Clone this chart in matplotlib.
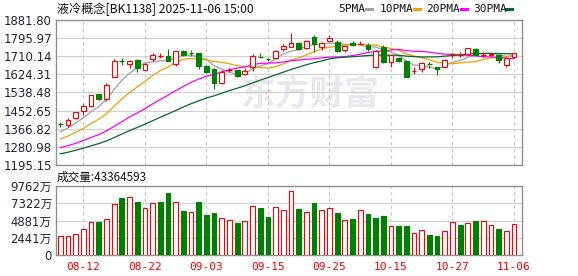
import matplotlib
matplotlib.use('Agg')
import matplotlib.pyplot as plt
import numpy as np
import pandas as pd

# ---------------- data ----------------
dates = ['08-07', '08-08', '08-11', '08-12', '08-13', '08-14', '08-15', '08-18', '08-19', '08-20',
         '08-21', '08-22', '08-25', '08-26', '08-27', '08-28', '08-29',
         '09-01', '09-02', '09-03', '09-04', '09-05', '09-08', '09-09', '09-10', '09-11', '09-12',
         '09-15', '09-16', '09-17', '09-18', '09-19', '09-22', '09-23', '09-24', '09-25', '09-26',
         '09-29', '09-30',
         '10-09', '10-10', '10-13', '10-14', '10-15', '10-16', '10-17', '10-20', '10-21', '10-22',
         '10-23', '10-24', '10-27', '10-28', '10-29', '10-30', '10-31',
         '11-03', '11-04', '11-05', '11-06']

opens = [1390, 1383, 1416, 1449, 1476, 1531, 1506, 1613, 1690, 1672,
         1691, 1645, 1698, 1711, 1711, 1673, 1735, 1728, 1724, 1664,
         1650, 1585, 1644, 1645, 1626, 1658, 1709, 1698, 1700, 1744,
         1755, 1774, 1750, 1803, 1752, 1784, 1779, 1740, 1774, 1766,
         1763, 1658, 1752, 1684, 1703, 1689, 1641, 1648, 1672, 1658,
         1661, 1718, 1717, 1721, 1743, 1715, 1716, 1716, 1669, 1705]
highs = [1401, 1419, 1447, 1484, 1527, 1533, 1582, 1696, 1703, 1691,
         1696, 1677, 1724, 1727, 1743, 1737, 1738, 1741, 1727, 1667,
         1655, 1645, 1656, 1647, 1653, 1719, 1727, 1703, 1738, 1768,
         1822, 1776, 1786, 1811, 1776, 1811, 1787, 1759, 1784, 1784,
         1771, 1740, 1763, 1716, 1708, 1693, 1658, 1684, 1684, 1660,
         1695, 1724, 1731, 1750, 1751, 1731, 1726, 1718, 1705, 1726]
lows = [1375, 1376, 1412, 1433, 1471, 1504, 1500, 1612, 1669, 1653,
        1637, 1643, 1686, 1700, 1686, 1665, 1713, 1711, 1648, 1629,
        1555, 1577, 1634, 1610, 1621, 1642, 1707, 1686, 1696, 1735,
        1754, 1741, 1743, 1732, 1740, 1784, 1731, 1732, 1758, 1766,
        1737, 1655, 1680, 1661, 1681, 1613, 1626, 1634, 1656, 1621,
        1660, 1700, 1708, 1719, 1714, 1705, 1710, 1680, 1661, 1700]
closes = [1388, 1408, 1445, 1474, 1525, 1506, 1574, 1688, 1688, 1688,
          1653, 1675, 1714, 1713, 1689, 1735, 1715, 1726, 1664, 1637,
          1585, 1637, 1646, 1618, 1642, 1711, 1707, 1696, 1736, 1759,
          1771, 1743, 1784, 1768, 1774, 1795, 1736, 1759, 1763, 1768,
          1744, 1737, 1684, 1716, 1688, 1613, 1642, 1677, 1671, 1648,
          1692, 1720, 1719, 1748, 1716, 1717, 1720, 1692, 1703, 1724]
# closes of the 29 sessions before the visible window (for moving averages)
prior_closes = [1175, 1168, 1180, 1192, 1185, 1198, 1205, 1190, 1200, 1207,
                1215, 1222, 1210, 1228, 1240, 1232, 1245, 1250, 1248, 1270,
                1265, 1272, 1285, 1290, 1303, 1318, 1330, 1352, 1376]
# volume in 万 (10k)
volumes = [2735, 2735, 2924, 3726, 4716, 4622, 5140, 7168, 8017, 8253,
           7451, 6697, 7404, 7451, 8725, 7546, 6178, 6131, 7451, 5659,
           5895, 5282, 4999, 4527, 4857, 6980, 6602, 5329, 6838, 6319,
           9008, 6461, 6036, 7310, 6319, 6697, 5942, 4905, 5046, 6414,
           5753, 5188, 5470, 4150, 4150, 4056, 3065, 3584, 2782, 2641,
           3443, 4622, 4197, 4480, 4763, 4857, 4197, 3631, 3443, 4336]
vol_up = [1, 1, 1, 1, 1, 0, 1, 1, 0, 1, 0, 1, 1, 0, 0, 1, 0, 1, 0, 0,
          0, 1, 1, 0, 1, 1, 0, 0, 1, 1, 1, 0, 1, 0, 1, 1, 0, 1, 0, 1,
          0, 0, 0, 1, 0, 0, 1, 1, 0, 0, 1, 1, 0, 1, 0, 1, 1, 0, 1, 1]

price_ticks = [1195.15, 1280.98, 1366.82, 1452.65, 1538.48, 1624.31, 1710.14, 1795.97, 1881.80]
vol_ticks = [0, 2441, 4881, 7322, 9762]
date_ticks = ['08-12', '08-22', '09-03', '09-15', '09-25', '10-15', '10-27', '11-06']
ma_periods = [5, 10, 20, 30]
ma_names = ['5PMA', '10PMA', '20PMA', '30PMA']
ma_colors = ['#a0a0a0', '#f0a000', '#ff00ff', '#006a30']
title = '液冷概念[BK1138] 2025-11-06 15:00'
vol_label = '成交量:43364593'

# ---------------- figure ----------------
plt.rcParams['font.family'] = ['DejaVu Sans', 'Noto Sans CJK SC']
W, H = 578, 276
fig = plt.figure(figsize=(W / 100, H / 100), dpi=100)


def rect(l, t, r, b):
    return [l / W, 1 - b / H, (r - l) / W, (b - t) / H]


ax = fig.add_axes(rect(56, 20, 522, 165))
axv = fig.add_axes(rect(56, 186, 522, 255))

n = len(dates)
x = np.arange(n)
o = np.array(opens, float)
h = np.array(highs, float)
l = np.array(lows, float)
c = np.array(closes, float)
RED = '#ff0000'
GREEN = '#008000'
bw = 0.62
lw = 0.8

# watermark
ax.text(0.545, 0.49, '东方财富', transform=ax.transAxes, ha='center', va='center',
        fontsize=25, fontweight='bold', color='#e8e8ee', family=['Noto Sans CJK SC'], zorder=0)

# moving averages
allc = pd.Series(prior_closes + closes, dtype=float)
for p, col in zip(ma_periods, ma_colors):
    ma = allc.rolling(p).mean().values[-n:]
    ax.plot(x, ma, color=col, lw=0.9, zorder=2)

# candles
for i in range(n):
    up = c[i] >= o[i]
    col = RED if up else GREEN
    top = max(o[i], c[i])
    bot = min(o[i], c[i])
    ax.vlines(x[i], top, h[i], color=col, lw=lw, zorder=3)
    ax.vlines(x[i], l[i], bot, color=col, lw=lw, zorder=3)
    if top - bot < 2.5:
        ax.hlines((top + bot) / 2, x[i] - bw / 2, x[i] + bw / 2, color=col, lw=1.0, zorder=4)
    else:
        ax.bar(x[i], top - bot, bw, bot, facecolor='white' if up else col,
               edgecolor=col, linewidth=lw, zorder=4)

# volume bars
for i in range(n):
    col = RED if vol_up[i] else GREEN
    axv.bar(x[i], volumes[i], bw, 0, facecolor='white' if vol_up[i] else col,
            edgecolor=col, linewidth=lw, zorder=3)

xt = [dates.index(d) for d in date_ticks]
for a in (ax, axv):
    a.set_xlim(-0.56, n + 0.04)
    a.set_xticks(xt)
    a.grid(axis='x', color='#c8c8c8', ls=(0, (3, 3)), lw=0.8)
    a.grid(axis='y', color='#d0d0d0', ls='-', lw=0.8)
    a.set_axisbelow(True)
    for s in a.spines.values():
        s.set_color('#909090')
        s.set_linewidth(1.0)
    a.tick_params(length=0, pad=3)

ax.set_ylim(price_ticks[0], price_ticks[-1])
ax.set_yticks(price_ticks)
ax.set_yticklabels(['%.2f' % v for v in price_ticks], fontsize=8.4, color='#222233')
ax.set_xticklabels([])

axv.set_ylim(vol_ticks[0], vol_ticks[-1])
axv.set_yticks(vol_ticks)
axv.set_yticklabels([('%d万' % v) if v else '0' for v in vol_ticks], fontsize=8.4, color='#222233')
axv.set_xticklabels(date_ticks, fontsize=8, color=RED, family=['DejaVu Sans Mono'])
axv.tick_params(axis='x', pad=5)

# title, legend and volume label
fig.text(57 / W, 1 - 9 / H, title, ha='left', va='center', fontsize=8.7,
         family=['Noto Sans CJK SC', 'DejaVu Sans'], color='#111111')
leg_x = [338, 380, 426, 473]
for xx, name, col in zip(leg_x, ma_names, ma_colors):
    fig.text(xx / W, 1 - 9 / H, name, ha='left', va='center', fontsize=8,
             family=['DejaVu Sans Mono'], color='#111111')
leg_line_x = [366, 414, 461, 506]
for xx, col in zip(leg_line_x, ma_colors):
    fig.add_artist(plt.Line2D([xx / W, (xx + 6) / W], [1 - 9 / H, 1 - 9 / H], color=col, lw=2.2))
fig.text(57 / W, 1 - 177 / H, vol_label, ha='left', va='center', fontsize=8.4,
         family=['Noto Sans CJK SC', 'DejaVu Sans'], color='#111111')

fig.savefig('out.png', dpi=100, facecolor='white')
